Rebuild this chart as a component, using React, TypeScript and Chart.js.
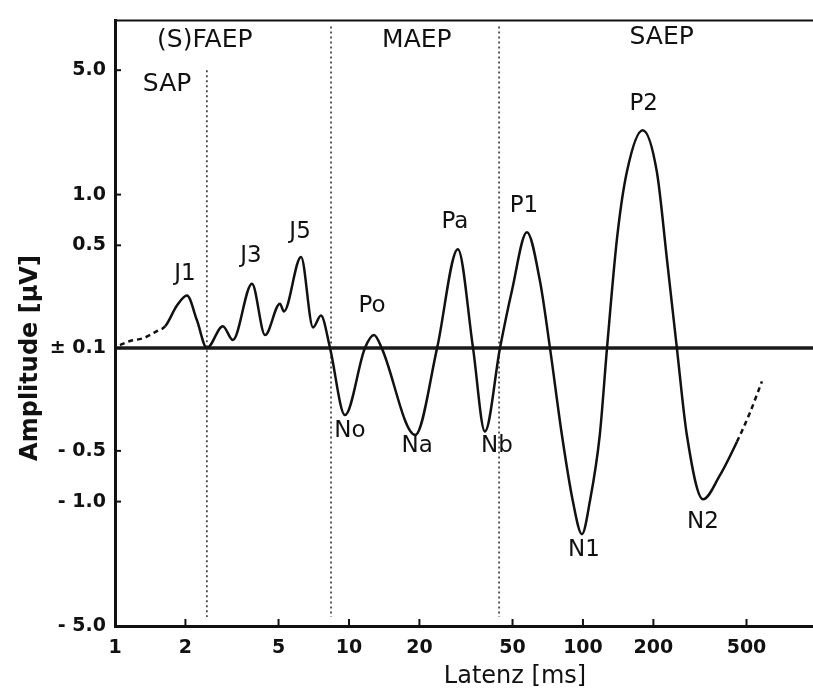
import React, { useEffect, useRef } from "react";
import { Chart, registerables } from "chart.js";

Chart.register(...registerables);

// ---- data (latency in ms, amplitude in µV) ----
const latency = [
  1.05, 1.16, 1.32, 1.51, 1.64, 1.84, 2.03, 2.24, 2.47, 2.89, 3.19, 3.85, 4.38, 5.07, 5.27, 6.24,
  7.02, 7.59, 8.3, 9.61, 11.7, 12.8, 13.8, 19.2, 23.8, 29.2, 33.9, 38.1, 44.2, 49.7, 57.6, 65.5,
  72.3, 81.3, 90.6, 99, 107, 118, 126.7, 140, 154, 180, 207, 229, 252, 278, 326, 385, 455, 517, 582,
];
const amplitude = [
  0.107, 0.116, 0.122, 0.138, 0.15, 0.208, 0.242, 0.165, 0.1, 0.15, 0.118, 0.289, 0.129, 0.214, 0.19, 0.425,
  0.147, 0.178, 0.1, -0.3, 0.1, 0.129, 0.1, -0.4, 0.1, 0.474, 0.1, -0.38, 0.1, 0.26, 0.6, 0.3,
  0.1, -0.4, -1.0, -1.54, -1.0, -0.4, 0.1, 0.56, 1.35, 2.33, 1.35, 0.4, 0.1, -0.4, -0.97, -0.7, -0.44, -0.29, -0.18,
];
const dashedBefore = 1.64; // extrapolated (dashed) start of curve
const dashedAfter = 455; // extrapolated (dashed) end of curve

const peakNames = ["J1", "J3", "J5", "No", "Po", "Na", "Pa", "Nb", "P1", "N1", "P2", "N2"];
const peakLatency = [2.03, 3.85, 6.24, 9.61, 12.8, 19.2, 29.2, 38.1, 57.6, 99, 180, 326];

const regionNames = ["SAP", "(S)FAEP", "MAEP", "SAEP"];
const regionBoundaries = [2.47, 8.38, 43.8];

const xTicks = [1, 2, 5, 10, 20, 50, 100, 200, 500];
const yTickValues = [5, 1, 0.5, 0.1, -0.5, -1, -5];
const yTickLabels = ["5.0", "1.0", "0.5", "± 0.1", "- 0.5", "- 1.0", "- 5.0"];

const xTitle = "Latenz [ms]";
const yTitle = "Amplitude [µV]";

// symmetric log-like amplitude axis (|v| <= 0.1 collapses onto the baseline)
const EXP = 1.12;
function toAxis(v: number): number {
  const a = Math.abs(v);
  if (a <= 0.1) return 0;
  return Math.sign(v) * Math.pow(Math.log10(a / 0.1), EXP);
}

const INK = "#111";
const LABEL_FONT = '"DejaVu Sans", sans-serif';

const decorPlugin = {
  id: "decor",
  beforeDatasetsDraw(chart: any) {
    const { ctx, chartArea: a, scales } = chart;
    const x = scales.x;
    const y = scales.y;
    ctx.save();
    // top frame line
    ctx.strokeStyle = INK;
    ctx.lineWidth = 2;
    ctx.beginPath();
    ctx.moveTo(a.left, a.top);
    ctx.lineTo(a.right, a.top);
    ctx.stroke();
    // baseline ±0.1
    const y0 = y.getPixelForValue(0);
    ctx.lineWidth = 3.5;
    ctx.strokeStyle = "#1a1a1a";
    ctx.beginPath();
    ctx.moveTo(a.left, y0);
    ctx.lineTo(a.right, y0);
    ctx.stroke();
    // region boundaries
    ctx.setLineDash([2, 3]);
    ctx.lineWidth = 1.6;
    ctx.strokeStyle = "#333";
    regionBoundaries.forEach((b, i) => {
      const px = x.getPixelForValue(b);
      const top = i === 0 ? y.getPixelForValue(toAxis(5)) : a.top + 6;
      ctx.beginPath();
      ctx.moveTo(px, top);
      ctx.lineTo(px, a.bottom - 9);
      ctx.stroke();
    });
    ctx.restore();
  },
  afterDatasetsDraw(chart: any) {
    const { ctx, chartArea: a, scales } = chart;
    const x = scales.x;
    const y = scales.y;
    ctx.save();
    // inward tick marks
    ctx.strokeStyle = INK;
    ctx.lineWidth = 2;
    xTicks.forEach((t) => {
      const px = x.getPixelForValue(t);
      ctx.beginPath();
      ctx.moveTo(px, a.bottom);
      ctx.lineTo(px, a.bottom - 7);
      ctx.stroke();
    });
    yTickValues.forEach((t) => {
      const py = y.getPixelForValue(toAxis(t));
      ctx.beginPath();
      ctx.moveTo(a.left, py);
      ctx.lineTo(a.left + 6, py);
      ctx.stroke();
    });

    ctx.fillStyle = INK;
    ctx.textAlign = "center";
    ctx.textBaseline = "middle";

    // region labels
    const regionLat = [1.67, 2.42, 19.5, 217];
    const regionDy = [64, 20, 20, 17];
    ctx.font = `25px ${LABEL_FONT}`;
    regionNames.forEach((n, i) => {
      ctx.fillText(n, x.getPixelForValue(regionLat[i]), a.top + regionDy[i]);
    });

    // peak labels
    const off = [
      [-2, -22], [-1, -28], [-1, -25], [5, 16], [-2, -29], [2, 11],
      [-3, -27], [12, 15], [-3, -26], [2, 16], [1, -26], [0, 23],
    ];
    ctx.font = `23px ${LABEL_FONT}`;
    peakNames.forEach((n, i) => {
      const idx = latency.indexOf(peakLatency[i]);
      const px = x.getPixelForValue(peakLatency[i]);
      const py = y.getPixelForValue(toAxis(amplitude[idx]));
      ctx.fillText(n, px + off[i][0], py + off[i][1]);
    });

    // axis titles
    ctx.font = `24px ${LABEL_FONT}`;
    ctx.fillText(xTitle, 515, 677);
    ctx.save();
    ctx.translate(31, 358);
    ctx.rotate(-Math.PI / 2);
    ctx.font = `bold 24px ${LABEL_FONT}`;
    ctx.fillText(yTitle, 0, 0);
    ctx.restore();

    ctx.restore();
  },
};

export default function App() {
  const canvasRef = useRef<HTMLCanvasElement | null>(null);

  useEffect(() => {
    document.body.style.margin = "0";
    const canvas = canvasRef.current;
    if (!canvas) return;
    const points = latency.map((l, i) => ({ x: l, y: toAxis(amplitude[i]) }));
    const tickFont = { family: '"DejaVu Sans", sans-serif', size: 19, weight: "bold" as const };

    const chart = new Chart(canvas, {
      type: "line",
      data: {
        datasets: [
          {
            data: points,
            borderColor: INK,
            borderWidth: 2.5,
            pointRadius: 0,
            fill: false,
            cubicInterpolationMode: "monotone",
            segment: {
              borderDash: (c: any) =>
                c.p1.parsed.x <= dashedBefore || c.p0.parsed.x >= dashedAfter ? [5, 4] : undefined,
            },
          },
        ],
      },
      options: {
        animation: false,
        responsive: false,
        devicePixelRatio: 1,
        layout: { padding: { top: 14, right: 0, left: 0, bottom: 0 } },
        plugins: { legend: { display: false }, tooltip: { enabled: false } },
        scales: {
          x: {
            type: "logarithmic",
            min: 1,
            max: 962,
            grid: { display: false, drawTicks: false },
            border: { display: true, color: INK, width: 3 },
            afterBuildTicks: (s: any) => {
              s.ticks = xTicks.map((v) => ({ value: v }));
            },
            afterFit: (s: any) => {
              s.height = 69;
            },
            ticks: {
              autoSkip: false,
              maxRotation: 0,
              padding: 11,
              color: INK,
              font: tickFont,
              callback: (_v: any, i: number) => String(xTicks[i]),
            },
          },
          y: {
            type: "linear",
            min: toAxis(-5),
            max: 2.135,
            grid: { display: false, drawTicks: false },
            border: { display: true, color: INK, width: 3 },
            afterBuildTicks: (s: any) => {
              s.ticks = yTickValues.map((v) => ({ value: toAxis(v) }));
            },
            afterFit: (s: any) => {
              s.width = 115;
            },
            ticks: {
              autoSkip: false,
              padding: 9,
              color: INK,
              font: tickFont,
              callback: (_v: any, i: number) => yTickLabels[i],
            },
          },
        },
      },
      plugins: [decorPlugin],
    });
    return () => chart.destroy();
  }, []);

  return (
    <div style={{ position: "relative", width: 813, height: 695 }}>
      <canvas
        ref={canvasRef}
        width={813}
        height={695}
        style={{ position: "absolute", left: 0, top: 0, width: 813, height: 695 }}
      />
    </div>
  );
}
